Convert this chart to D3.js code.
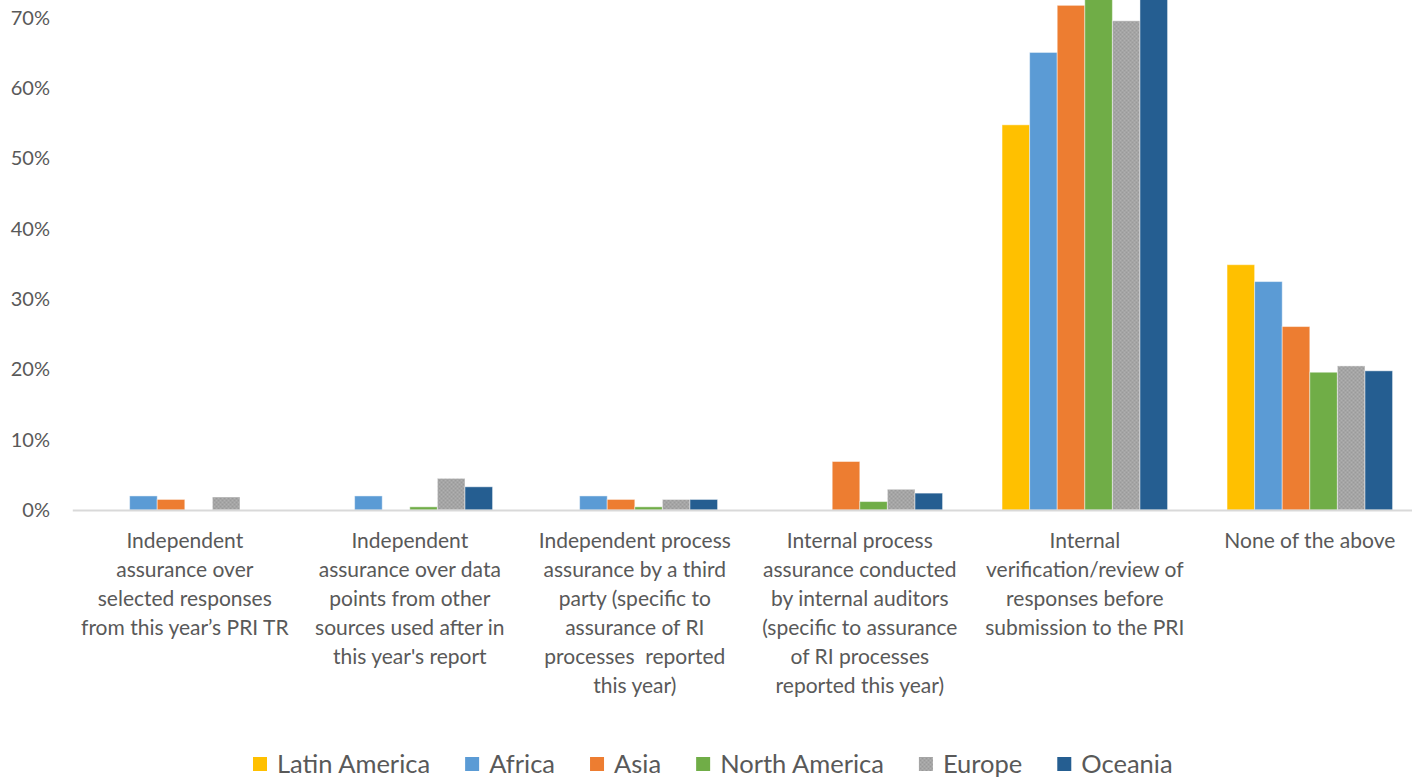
<!DOCTYPE html>
<html>
<head>
<meta charset="utf-8">
<script src="https://cdn.jsdelivr.net/npm/d3@7"></script>
<style>
  html, body { margin: 0; padding: 0; background: #ffffff; }
  svg { display: block; }
  text { font-family: Lato, "Open Sans", sans-serif; fill: #595959; }
</style>
</head>
<body>
<svg id="chart" width="1412" height="780"></svg>
<script>
// Assurance practices by region (share of signatories)
const categories = [
  ["Independent", "assurance over", "selected responses", "from this year\u2019s PRI TR"],
  ["Independent", "assurance over data", "points from other", "sources used after in", "this year's report"],
  ["Independent process", "assurance by a third", "party (specific to", "assurance of RI", "processes  reported", "this year)"],
  ["Internal process", "assurance conducted", "by internal auditors", "(specific to assurance", "of RI processes", "reported this year)"],
  ["Internal", "verification/review of", "responses before", "submission to the PRI"],
  ["None of the above"]
];

const regions = ["Latin America", "Africa", "Asia", "North America", "Europe", "Oceania"];
const regionColors = ["#FFC000", "#5B9BD5", "#ED7D31", "#70AD47", "#A5A5A5", "#255E91"];

const latinAmerica = [0, 0, 0, 0, 54.8, 34.9];
const africa       = [2.0, 2.0, 2.0, 0, 65.1, 32.5];
const asia         = [1.5, 0, 1.5, 6.9, 71.8, 26.1];
const northAmerica = [0, 0.45, 0.45, 1.2, 76.0, 19.6];
const europe       = [1.85, 4.5, 1.5, 2.95, 69.6, 20.5];
const oceania      = [0, 3.3, 1.5, 2.4, 77.0, 19.8];

const yTicks = [0, 10, 20, 30, 40, 50, 60, 70];

const seriesValues = [latinAmerica, africa, asia, northAmerica, europe, oceania];

const svg = d3.select("#chart");

// layout
const plotLeft = 72.3, plotRight = 1422.3, baseY = 510, topY = 18;
const groupShare = 0.7356;

const x0 = d3.scaleBand()
  .domain(d3.range(categories.length))
  .range([plotLeft, plotRight])
  .padding(0);

const groupWidth = x0.bandwidth() * groupShare;
const x1 = d3.scaleBand()
  .domain(d3.range(regions.length))
  .range([0, groupWidth])
  .padding(0);

const y = d3.scaleLinear().domain([0, 70]).range([baseY, topY]);

// subtle dither texture for the grey series
const defs = svg.append("defs");
const pat = defs.append("pattern")
  .attr("id", "greyTex")
  .attr("width", 4).attr("height", 4)
  .attr("patternUnits", "userSpaceOnUse");
pat.append("rect").attr("width", 4).attr("height", 4).attr("fill", "#A5A5A5");
pat.append("rect").attr("x", 0).attr("y", 0).attr("width", 1).attr("height", 1).attr("fill", "#999999");
pat.append("rect").attr("x", 2).attr("y", 2).attr("width", 1).attr("height", 1).attr("fill", "#999999");
pat.append("rect").attr("x", 2).attr("y", 0).attr("width", 1).attr("height", 1).attr("fill", "#B0B0B0");
pat.append("rect").attr("x", 0).attr("y", 2).attr("width", 1).attr("height", 1).attr("fill", "#B0B0B0");

function fillFor(i) { return i === 4 ? "url(#greyTex)" : regionColors[i]; }

// y axis labels (no axis line)
const yAxis = d3.axisLeft(y)
  .tickValues(yTicks)
  .tickFormat(d => d + "%")
  .tickSize(0)
  .tickPadding(0);
const yg = svg.append("g")
  .attr("transform", "translate(50,0)")
  .call(yAxis);
yg.select(".domain").remove();
yg.selectAll("text")
  .style("font-size", "20px")
  .style("font-family", "Lato, 'Open Sans', sans-serif")
  .attr("fill", "#595959");

// bars
const groups = svg.append("g").selectAll("g")
  .data(categories.map((c, ci) => ci))
  .join("g")
  .attr("transform", ci => `translate(${x0(ci) + (x0.bandwidth() - groupWidth) / 2},0)`);

groups.selectAll("rect")
  .data(ci => regions.map((r, ri) => ({ ri, v: seriesValues[ri][ci] })))
  .join("rect")
  .filter(d => d.v > 0)
  .attr("x", d => x1(d.ri))
  .attr("y", d => y(d.v))
  .attr("width", x1.bandwidth())
  .attr("height", d => baseY - y(d.v))
  .attr("fill", d => fillFor(d.ri))
  .attr("stroke", "rgba(255,255,255,0.45)")
  .attr("stroke-width", 1);

// category axis line
const xAxis = d3.axisBottom(x0).tickSize(0).tickFormat("");
const xg = svg.append("g")
  .attr("transform", `translate(0,${baseY})`)
  .call(xAxis);
xg.select(".domain")
  .attr("stroke", "#D9D9D9")
  .attr("stroke-width", 2);

// category labels (multi-line)
const labelG = svg.append("g");
categories.forEach((lines, ci) => {
  const cx = x0(ci) + x0.bandwidth() / 2;
  const t = labelG.append("text")
    .attr("text-anchor", "middle")
    .attr("x", cx)
    .attr("y", 548)
    .style("font-size", "21px");
  lines.forEach((ln, li) => {
    t.append("tspan")
      .attr("x", cx)
      .attr("dy", li === 0 ? 0 : 29)
      .attr("xml:space", "preserve")
      .style("white-space", "pre")
      .text(ln);
  });
});

// legend
const legend = svg.append("g");
let lx = 253;
const ly = 763;
regions.forEach((r, i) => {
  const g = legend.append("g");
  g.append("rect")
    .attr("x", lx).attr("y", ly - 6)
    .attr("width", 14).attr("height", 14)
    .attr("fill", fillFor(i));
  const t = g.append("text")
    .attr("x", lx + 24)
    .attr("y", ly)
    .attr("dominant-baseline", "central")
    .style("font-size", "25.5px")
    .text(r);
  const w = t.node().getComputedTextLength();
  lx += 24 + w + 35;
});
</script>
</body>
</html>
